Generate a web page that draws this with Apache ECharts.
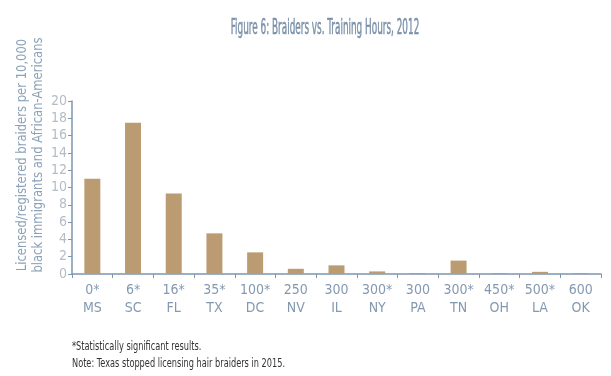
<!DOCTYPE html>
<html>
<head>
<meta charset="utf-8">
<script src="https://cdn.jsdelivr.net/npm/echarts@6/dist/echarts.min.js"></script>
<style>
  html, body { margin: 0; padding: 0; background: #fff; }
  #chart { width: 611px; height: 376px; }
</style>
</head>
<body>
<div id="chart"></div>
<script>
const hours = ["0*", "6*", "16*", "35*", "100*", "250", "300", "300*", "300", "300*", "450*", "500*", "600"];
const states = ["MS", "SC", "FL", "TX", "DC", "NV", "IL", "NY", "PA", "TN", "OH", "LA", "OK"];
const braiders = [11.0, 17.5, 9.3, 4.7, 2.5, 0.6, 1.0, 0.3, 0.1, 1.55, 0.1, 0.25, 0.1];
const yTicks = [0, 2, 4, 6, 8, 10, 12, 14, 16, 18, 20];

const font = "'Liberation Sans Narrow', 'DejaVu Sans Condensed', sans-serif";
const axisColor = "#7d95ae";

const chart = echarts.init(document.getElementById("chart"));

// the original uses a condensed face, so text is squeezed with scaleX
const option = {
  animation: false,
  grid: { left: 72, right: 10, top: 101, bottom: 102 },
  xAxis: {
    type: "category",
    data: hours.map((h, i) => h + "\n" + states[i]),
    axisLine: { lineStyle: { color: axisColor, width: 1.5 } },
    axisTick: { show: true, length: 4, lineStyle: { color: axisColor } },
    axisLabel: {
      fontFamily: font, fontSize: 14, color: "#8499b0",
      lineHeight: 18, margin: 7, interval: 0,
    },
  },
  yAxis: {
    type: "value",
    min: yTicks[0],
    max: yTicks[yTicks.length - 1],
    interval: 2,
    splitLine: { show: false },
    axisLine: { show: true, lineStyle: { color: axisColor, width: 1.5 } },
    axisTick: { show: true, length: 4, lineStyle: { color: axisColor } },
    axisLabel: { fontFamily: font, fontSize: 14, color: "#b4bcc6", margin: 5 },
  },
  graphic: [
    {
      type: "text",
      x: 325, y: 29,
      scaleX: 0.47,
      style: {
        text: "Figure 6: Braiders vs. Training Hours, 2012",
        fontFamily: font, fontSize: 21, fill: "#7a90a8",
        stroke: "#7a90a8", lineWidth: 0.5,
        align: "center", verticalAlign: "middle",
      },
    },
    {
      type: "text",
      x: 30, y: 155,
      rotation: Math.PI / 2,
      scaleX: 0.92,
      style: {
        text: "Licensed/registered braiders per 10,000\nblack immigrants and African-Americans",
        fontFamily: font, fontSize: 14, fill: "#8ca2b8",
        align: "center", verticalAlign: "middle", lineHeight: 16,
      },
    },
    {
      type: "text",
      x: 72, y: 338,
      scaleX: 0.76,
      style: {
        text: "*Statistically significant results.\nNote: Texas stopped licensing hair braiders in 2015.",
        fontFamily: font, fontSize: 12, fill: "#333", lineHeight: 17,
      },
    },
  ],
  series: [
    {
      type: "bar",
      data: braiders,
      barWidth: 16,
      itemStyle: { color: "#bb9c72" },
    },
  ],
};

chart.setOption(option);
</script>
</body>
</html>
